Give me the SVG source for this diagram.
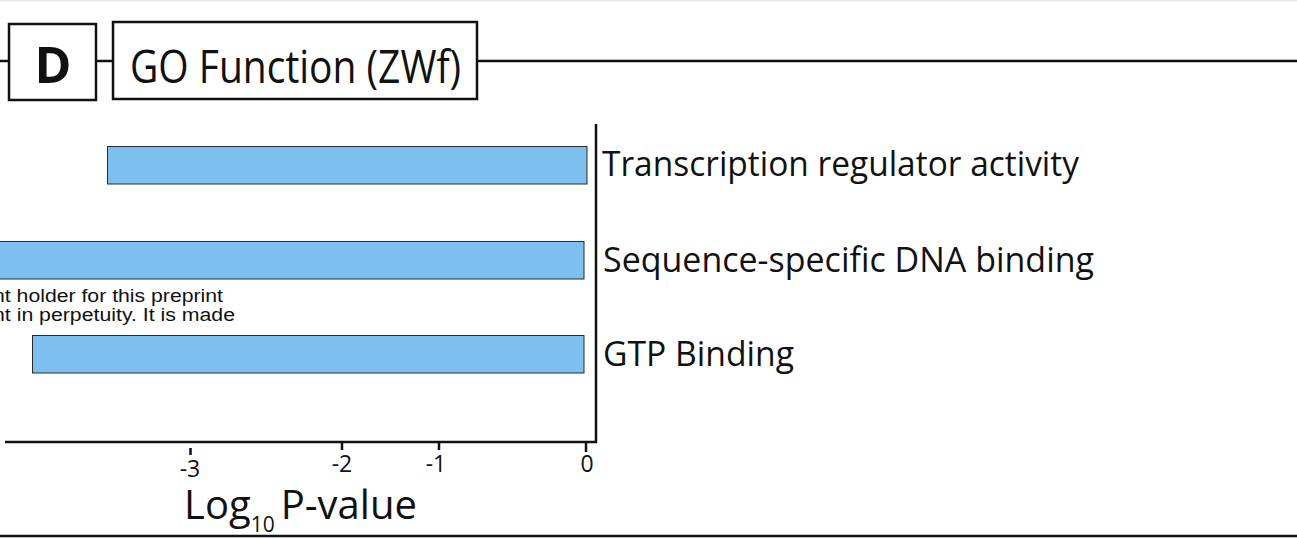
<svg xmlns="http://www.w3.org/2000/svg" width="1297" height="539" viewBox="0 0 1297 539">
<style>
.ln{stroke:#111;stroke-width:2.5;fill:none}
.box{fill:#fff;stroke:#111;stroke-width:2.5}
.bar{fill:#7dc0ef;stroke:#2a2a2a;stroke-width:1}
.lbl{font-family:"Open Sans","Noto Sans",sans-serif;font-size:34px;fill:#111}
.tk{font-family:"Open Sans","Noto Sans",sans-serif;font-size:23px;fill:#111;text-anchor:middle}
.wm{font-family:"Liberation Sans",Arial,sans-serif;font-size:18px;fill:#111}
</style>
<rect x="0" y="0" width="1297" height="539" fill="#fff"/>
<rect x="0" y="0" width="1297" height="1.5" fill="#eaeaea"/>
<g id="connectors">
<line class="ln" x1="0" y1="61" x2="1297" y2="61"/>
<line class="ln" x1="0" y1="536" x2="1297" y2="536"/>
</g>
<g id="header-D">
<rect class="box" x="9" y="24" width="87" height="76"/>
<text x="53" y="83" text-anchor="middle" font-family="'Open Sans','Noto Sans',sans-serif" font-weight="bold" font-size="50" fill="#111">D</text>
</g>
<g id="header-title">
<rect class="box" x="113" y="22" width="364" height="77"/>
<text x="130" y="83" font-family="'Open Sans','Noto Sans',sans-serif" font-size="46" fill="#111" textLength="331" lengthAdjust="spacingAndGlyphs">GO Function (ZWf)</text>
</g>
<g id="watermark">
<text class="wm" x="-7" y="302" textLength="230" lengthAdjust="spacingAndGlyphs">nt holder for this preprint</text>
<text class="wm" x="-7" y="321" textLength="242" lengthAdjust="spacingAndGlyphs">nt in perpetuity. It is made</text>
</g>
<g id="bar-transcription">
<rect class="bar" x="107.5" y="146.5" width="479.5" height="37.5"/>
<text class="lbl" x="602" y="176" textLength="477" lengthAdjust="spacingAndGlyphs">Transcription regulator activity</text>
</g>
<g id="bar-sequence">
<rect class="bar" x="-2" y="241.5" width="586" height="37.5"/>
<text class="lbl" x="603" y="272" textLength="491" lengthAdjust="spacingAndGlyphs">Sequence-specific DNA binding</text>
</g>
<g id="bar-gtp">
<rect class="bar" x="32.5" y="335.5" width="551.5" height="37.5"/>
<text class="lbl" x="603" y="366" textLength="191" lengthAdjust="spacingAndGlyphs">GTP Binding</text>
</g>
<g id="axes">
<line class="ln" x1="596" y1="124" x2="596" y2="443"/>
<line class="ln" x1="5" y1="442" x2="597" y2="442"/>
<line class="ln" x1="190.5" y1="448" x2="190.5" y2="455"/>
<line class="ln" x1="342" y1="442" x2="342" y2="450"/>
<line class="ln" x1="439" y1="442" x2="439" y2="450"/>
<line class="ln" x1="586" y1="442" x2="586" y2="452"/>
<text class="tk" x="190" y="477">-3</text>
<text class="tk" x="342" y="472">-2</text>
<text class="tk" x="436" y="472">-1</text>
<text class="tk" x="587" y="472">0</text>
<text x="184" y="519" font-family="'Open Sans','Noto Sans',sans-serif" font-size="40" fill="#111">Log<tspan font-size="21" dy="13">10</tspan><tspan dy="-13" dx="6">P-value</tspan></text>
</g>
</svg>
